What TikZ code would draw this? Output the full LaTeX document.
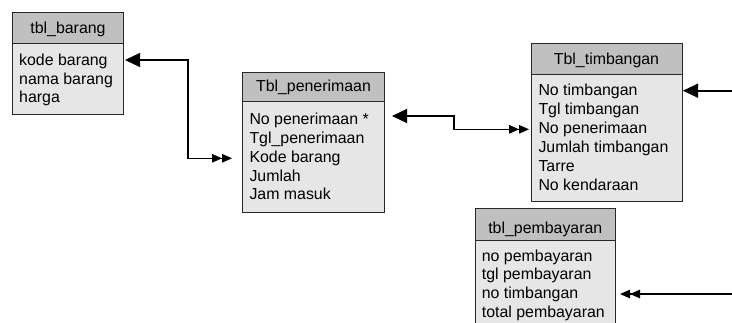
\documentclass[tikz,border=0pt]{standalone}
\usepackage{fontspec}
\setmainfont{Liberation Sans}
\usetikzlibrary{arrows.meta}
\definecolor{hdrgray}{RGB}{192,192,192}
\definecolor{bodygray}{RGB}{230,230,230}
\definecolor{edgegray}{RGB}{40,40,40}
\tikzset{
  tbox/.style={draw=edgegray, line width=1pt, anchor=north west, inner sep=0pt, outer sep=0pt},
  hbox/.style={tbox, fill=hdrgray},
  bbox/.style={tbox, fill=bodygray},
  rowtxt/.style={anchor=base west, inner sep=0pt, font=\fontsize{15.9}{19}\selectfont},
  ttltxt/.style={anchor=base, inner sep=0pt, font=\fontsize{15.9}{19}\selectfont},
  conn/.style={line width=1.2pt, black},
  thickseg/.style={line width=1.9pt, black},
  onetip/.tip={Triangle[length=15pt,width=14pt]},
  twotip/.tip={Triangle[length=10pt,width=8.5pt,sep=0pt]Triangle[length=10pt,width=8.5pt]}
}
\begin{document}
\begin{tikzpicture}[x=1pt,y=-1pt]
\useasboundingbox (0,0) rectangle (732,322);
\clip (0,0) rectangle (732,322);

% tbl_barang
\node[hbox, minimum width=111pt, minimum height=31pt] (barangH) at (12.3,12.3) {};
\node[bbox, minimum width=111pt, minimum height=71pt] (barangB) at (12.3,43.3) {};
\node[ttltxt] (barangT) at (68,33.3) {tbl\_barang};
\foreach \t [count=\i] in {kode barang, nama barang, harga}
  \node[rowtxt] (barang\i) at (19,{65.7+18.3*(\i-1)}) {\t};

% Tbl_penerimaan
\node[hbox, minimum width=141.5pt, minimum height=29.5pt] (penH) at (242.7,72.3) {};
\node[bbox, minimum width=141.5pt, minimum height=110.5pt] (penB) at (242.7,101.8) {};
\node[ttltxt] (penT) at (313.5,91.8) {Tbl\_penerimaan};
\foreach \t [count=\i] in {No penerimaan *, Tgl\_penerimaan, Kode barang, Jumlah, Jam masuk}
  \node[rowtxt] (pen\i) at (249.3,{124.3+18.9*(\i-1)}) {\t};

% Tbl_timbangan
\node[hbox, minimum width=151pt, minimum height=31.3pt] (timH) at (531,43) {};
\node[bbox, minimum width=151pt, minimum height=127.4pt] (timB) at (531,74.3) {};
\node[ttltxt] (timT) at (606.5,64) {Tbl\_timbangan};
\foreach \t [count=\i] in {No timbangan, Tgl timbangan, No penerimaan, Jumlah timbangan, Tarre, No kendaraan}
  \node[rowtxt] (tim\i) at (538.3,{95+19*(\i-1)}) {\t};

% tbl_pembayaran
\node[hbox, minimum width=140.7pt, minimum height=31.7pt] (payH) at (475,208.3) {};
\node[bbox, minimum width=140.7pt, minimum height=100pt] (payB) at (475,240) {};
\node[ttltxt] (payT) at (545.3,233.5) {tbl\_pembayaran};
\foreach \t [count=\i] in {no pembayaran, tgl pembayaran, no timbangan, total pembayaran}
  \node[rowtxt] (pay\i) at (481.7,{261+18.8*(\i-1)}) {\t};

% connector end points
\coordinate (c1a) at (125,60);
\coordinate (c1m) at (188,60);
\coordinate (c1b) at (232,158.3);
\coordinate (c2a) at (392,116);
\coordinate (c2m) at (454,116);
\coordinate (c2b) at (529,129.3);
\coordinate (c3a) at (740,90.7);
\coordinate (c3b) at (683,90.7);
\coordinate (c4a) at (740,294);
\coordinate (c4b) at (620,294);

\draw[conn, {onetip}-{twotip}] (c1a) -| (188,120) |- (c1b);
\draw[thickseg] ([xshift=8pt]c1a) -- (c1m);
\draw[conn, {onetip}-{twotip}] (c2a) -| (454,122) |- (c2b);
\draw[thickseg] ([xshift=8pt]c2a) -- (c2m);
\draw[conn, line width=1.6pt, -{onetip}] (c3a) -- (c3b);
\draw[conn, -{twotip}] (c4a) -- (c4b);
\end{tikzpicture}
\end{document}
